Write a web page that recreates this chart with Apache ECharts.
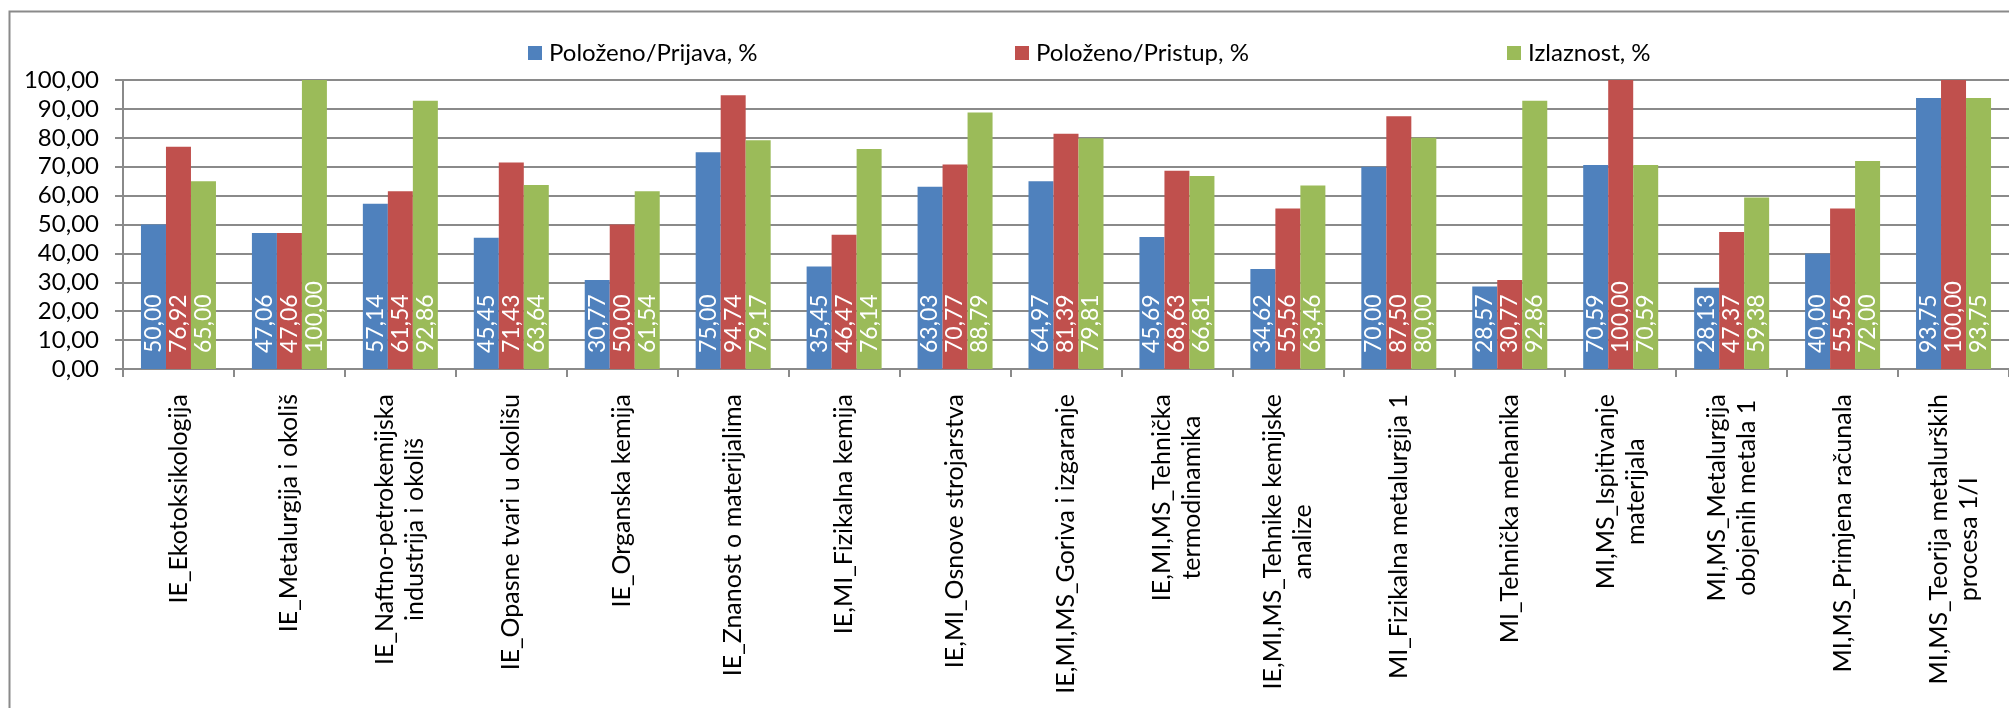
<!DOCTYPE html>
<html>
<head>
<meta charset="utf-8">
<script src="https://cdn.jsdelivr.net/npm/echarts@6/dist/echarts.min.js"></script>
<style>
html,body{margin:0;padding:0;background:#fff;}
#chart{width:2009px;height:708px;}
</style>
</head>
<body>
<div id="chart"></div>
<script>
const categories = [
  'IE_Ekotoksikologija',
  'IE_Metalurgija i okoliš',
  'IE_Naftno-petrokemijska\nindustrija i okoliš',
  'IE_Opasne tvari u okolišu',
  'IE_Organska kemija',
  'IE_Znanost o materijalima',
  'IE,MI_Fizikalna kemija',
  'IE,MI_Osnove strojarstva',
  'IE,MI,MS_Goriva i izgaranje',
  'IE,MI,MS_Tehnička\ntermodinamika',
  'IE,MI,MS_Tehnike kemijske\nanalize',
  'MI_Fizikalna metalurgija 1',
  'MI_Tehnička mehanika',
  'MI,MS_Ispitivanje\nmaterijala',
  'MI,MS_Metalurgija\nobojenih metala 1',
  'MI,MS_Primjena računala',
  'MI,MS_Teorija metalurških\nprocesa 1/I'
];
const seriesNames = ['Položeno/Prijava, %', 'Položeno/Pristup, %', 'Izlaznost, %'];
const prijava = [50.00, 47.06, 57.14, 45.45, 30.77, 75.00, 35.45, 63.03, 64.97, 45.69, 34.62, 70.00, 28.57, 70.59, 28.13, 40.00, 93.75];
const pristup = [76.92, 47.06, 61.54, 71.43, 50.00, 94.74, 46.47, 70.77, 81.39, 68.63, 55.56, 87.50, 30.77, 100.00, 47.37, 55.56, 100.00];
const izlaznost = [65.00, 100.00, 92.86, 63.64, 61.54, 79.17, 76.14, 88.79, 79.81, 66.81, 63.46, 80.00, 92.86, 70.59, 59.38, 72.00, 93.75];
const yMin = 0, yMax = 100, yStep = 10;

const colors = ['#4F81BD', '#C0504D', '#9BBB59'];
const FONT = 'Lato';
const fmt = v => Number(v).toFixed(2).replace('.', ',');

const chart = echarts.init(document.getElementById('chart'), null, {renderer: 'canvas'});

const barLabel = {
  show: true,
  position: 'insideBottom',
  distance: 16,
  rotate: 90,
  align: 'left',
  verticalAlign: 'middle',
  color: '#fff',
  fontFamily: FONT,
  fontSize: 23,
  formatter: p => fmt(p.value)
};

const legendBase = {
  top: 36,
  itemWidth: 14,
  itemHeight: 14,
  itemGap: 7,
  icon: 'rect',
  textStyle: {fontFamily: FONT, fontSize: 24, color: '#000', padding: [0, 0, 0, 2]}
};

const option = {
  animation: false,
  backgroundColor: '#fff',
  textStyle: {fontFamily: FONT},
  graphic: [{
    type: 'rect',
    left: 7, top: 9,
    shape: {width: 2100, height: 800},
    style: {fill: 'none', stroke: '#8a8a8a', lineWidth: 2},
    silent: true, z: -1
  }],
  legend: [
    Object.assign({}, legendBase, {left: 523, data: [seriesNames[0]]}),
    Object.assign({}, legendBase, {left: 1010, data: [seriesNames[1]]}),
    Object.assign({}, legendBase, {left: 1502, data: [seriesNames[2]]})
  ],
  grid: {left: 123, top: 80, width: 1899, height: 289, containLabel: false},
  xAxis: {
    type: 'category',
    data: categories,
    boundaryGap: true,
    axisLine: {show: true, lineStyle: {color: '#8a8a8a', width: 2}},
    axisTick: {show: true, length: 8, alignWithLabel: false, lineStyle: {color: '#8a8a8a', width: 2}},
    axisLabel: {
      interval: 0,
      rotate: 90,
      margin: 25,
      color: '#000',
      fontFamily: FONT,
      fontSize: 25,
      formatter: v => v.split('\n').map(l => '{c|' + l + '}').join('\n'),
      rich: {c: {align: 'center', fontFamily: FONT, fontSize: 25, lineHeight: 30, color: '#000'}}
    },
    splitLine: {show: false}
  },
  yAxis: {
    type: 'value',
    min: yMin, max: yMax, interval: yStep,
    axisLine: {show: true, lineStyle: {color: '#8a8a8a', width: 2}},
    axisTick: {show: true, length: 8, lineStyle: {color: '#8a8a8a', width: 2}},
    axisLabel: {
      margin: 24,
      color: '#000',
      fontFamily: FONT,
      fontSize: 24,
      formatter: v => fmt(v)
    },
    splitLine: {show: true, lineStyle: {color: '#8a8a8a', width: 2}}
  },
  series: [
    {name: seriesNames[0], type: 'bar', data: prijava, barWidth: 25, barGap: '0%', itemStyle: {color: colors[0]}, label: barLabel},
    {name: seriesNames[1], type: 'bar', data: pristup, barWidth: 25, barGap: '0%', itemStyle: {color: colors[1]}, label: barLabel},
    {name: seriesNames[2], type: 'bar', data: izlaznost, barWidth: 25, barGap: '0%', itemStyle: {color: colors[2]}, label: barLabel}
  ]
};
chart.setOption(option);
</script>
</body>
</html>
